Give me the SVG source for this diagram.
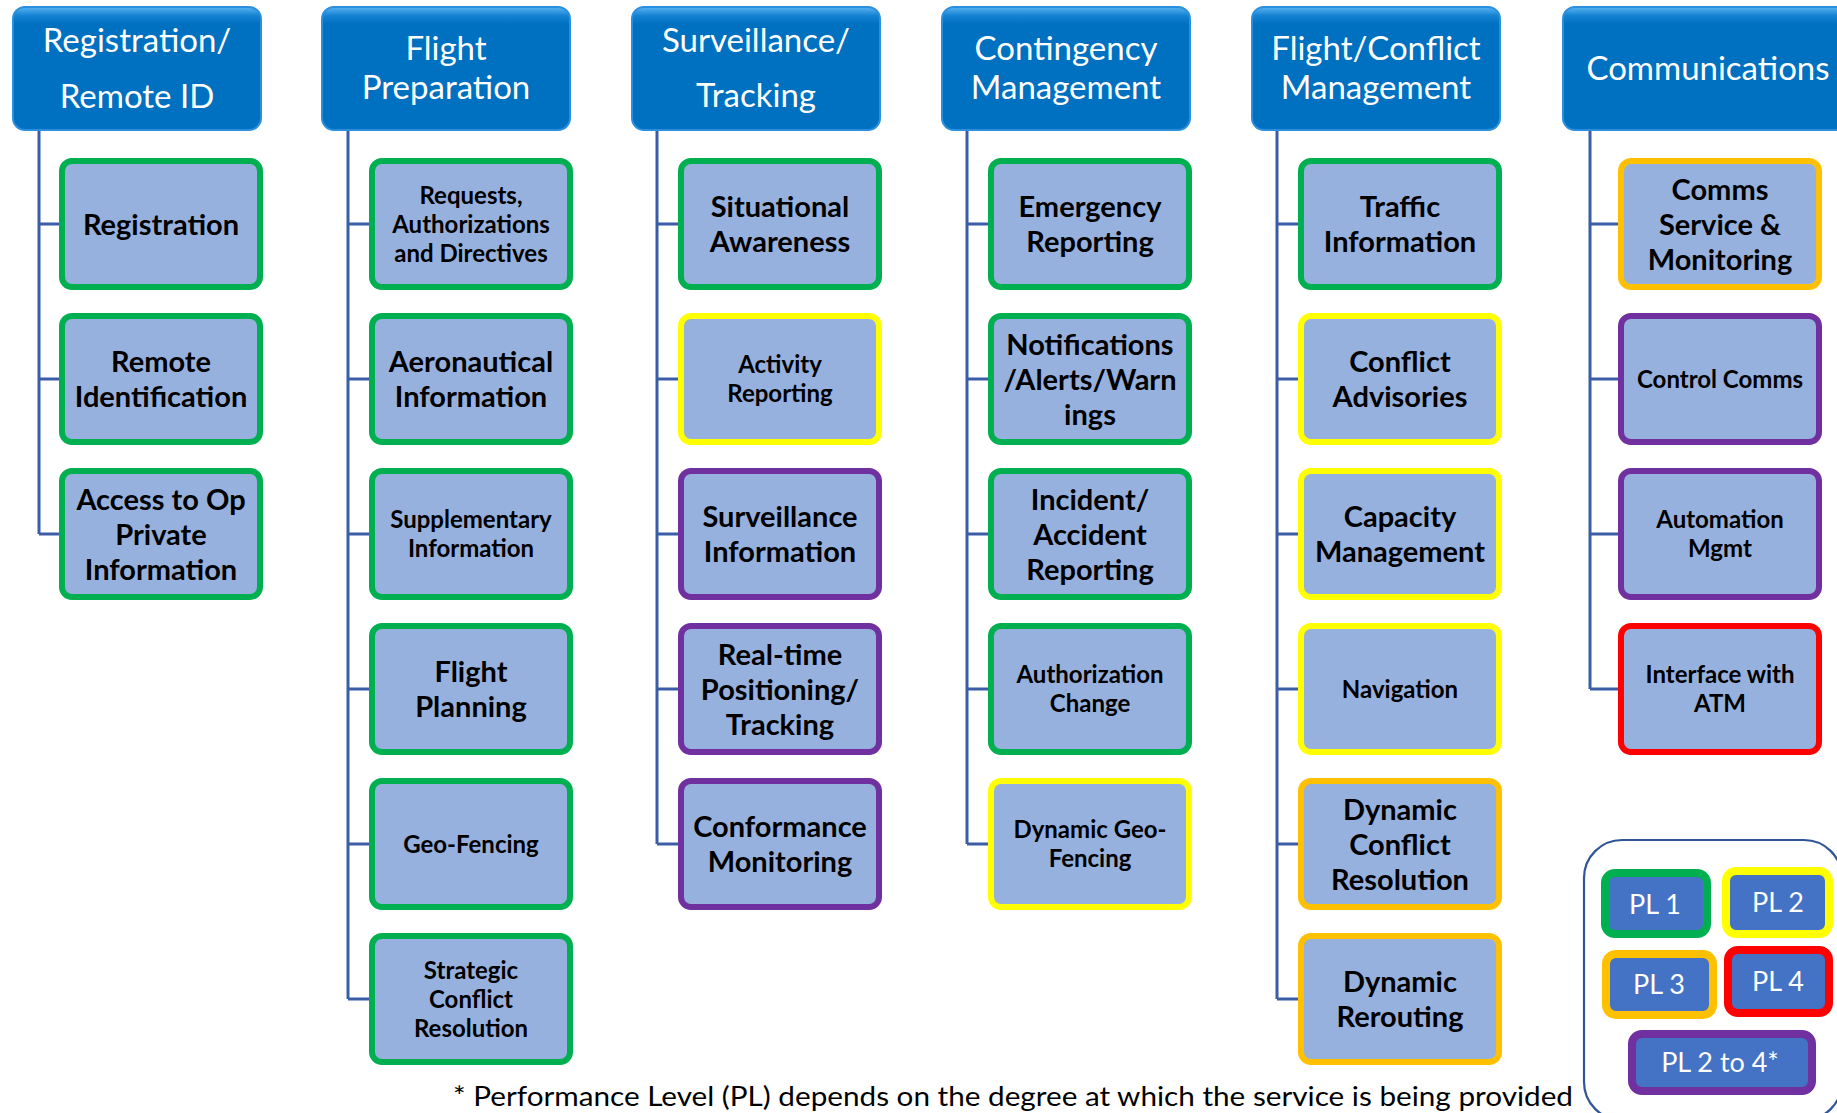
<svg xmlns="http://www.w3.org/2000/svg" width="1837" height="1113" viewBox="0 0 1837 1113">
<defs>
<linearGradient id="hdrGrad" x1="0" y1="0" x2="0" y2="1">
<stop offset="0" stop-color="#5AB4F2"/>
<stop offset="0.07" stop-color="#1582D2"/>
<stop offset="0.14" stop-color="#0070C0"/>
<stop offset="1" stop-color="#0070C0"/>
</linearGradient>
<style>
.hdr{fill:url(#hdrGrad);stroke:#2A8FDE;stroke-width:2}
.ht{font-family:Lato,"Open Sans",sans-serif;font-size:33px;fill:#FFFFFF;text-anchor:middle}
.box{fill:#97B1DE;stroke-width:6}
.g{stroke:#00B050}
.y{stroke:#FFFF00}
.o{stroke:#FFC000}
.p{stroke:#7030A0}
.r{stroke:#FF0000}
.lg{font-family:Lato,"Open Sans",sans-serif;font-weight:700;font-size:29px;fill:#000;text-anchor:middle}
.sm{font-family:Lato,"Open Sans",sans-serif;font-weight:700;font-size:24px;fill:#000;text-anchor:middle}
.conn{stroke:#3B5CA6;stroke-width:3;fill:none}
.pl{fill:#4472C4;stroke-width:8}
.plt{font-family:Lato,"Open Sans",sans-serif;font-size:27px;fill:#FFFFFF;text-anchor:middle}
.foot{font-family:Lato,"Open Sans",sans-serif;font-size:27px;fill:#000}
</style>
</defs>
<rect x="0" y="0" width="1837" height="1113" fill="#FFFFFF"/>

<g id="connectors">
<path class="conn" d="M39,130V534M39,224H59M39,379H59M39,534H59"/>
<path class="conn" d="M348,130V999M348,224H369M348,379H369M348,534H369M348,689H369M348,844H369M348,999H369"/>
<path class="conn" d="M657,130V844M657,224H678M657,379H678M657,534H678M657,689H678M657,844H678"/>
<path class="conn" d="M967,130V844M967,224H988M967,379H988M967,534H988M967,689H988M967,844H988"/>
<path class="conn" d="M1277,130V999M1277,224H1298M1277,379H1298M1277,534H1298M1277,689H1298M1277,844H1298M1277,999H1298"/>
<path class="conn" d="M1590,130V689M1590,224H1618M1590,379H1618M1590,534H1618M1590,689H1618"/>
</g>

<!-- Headers -->
<g id="h-registration"><rect class="hdr" x="13" y="7" width="248" height="123" rx="12"/><text class="ht"><tspan x="137" y="52">Registration/</tspan><tspan x="137" y="108">Remote ID</tspan></text></g>
<g id="h-flightprep"><rect class="hdr" x="322" y="7" width="248" height="123" rx="12"/><text class="ht"><tspan x="446" y="60">Flight</tspan><tspan x="446" y="99">Preparation</tspan></text></g>
<g id="h-surveillance"><rect class="hdr" x="632" y="7" width="248" height="123" rx="12"/><text class="ht"><tspan x="756" y="52">Surveillance/</tspan><tspan x="756" y="107">Tracking</tspan></text></g>
<g id="h-contingency"><rect class="hdr" x="942" y="7" width="248" height="123" rx="12"/><text class="ht"><tspan x="1066" y="60">Contingency</tspan><tspan x="1066" y="99">Management</tspan></text></g>
<g id="h-flightconflict"><rect class="hdr" x="1252" y="7" width="248" height="123" rx="12"/><text class="ht"><tspan x="1376" y="60">Flight/Conflict</tspan><tspan x="1376" y="99">Management</tspan></text></g>
<g id="h-communications"><rect class="hdr" x="1563" y="7" width="300" height="123" rx="12"/><text class="ht"><tspan x="1708" y="80">Communications</tspan></text></g>

<!-- Column 1 -->
<g id="n-registration"><rect class="box g" x="62" y="161" width="198" height="126" rx="10"/><text class="lg"><tspan x="161" y="234.5">Registration</tspan></text></g>
<g id="n-remote-id"><rect class="box g" x="62" y="316" width="198" height="126" rx="10"/><text class="lg"><tspan x="161" y="372">Remote</tspan><tspan x="161" y="407">Identification</tspan></text></g>
<g id="n-access-op"><rect class="box g" x="62" y="471" width="198" height="126" rx="10"/><text class="lg"><tspan x="161" y="509.5">Access to Op</tspan><tspan x="161" y="544.5">Private</tspan><tspan x="161" y="579.5">Information</tspan></text></g>

<!-- Column 2 -->
<g id="n-requests"><rect class="box g" x="372" y="161" width="198" height="126" rx="10"/><text class="sm"><tspan x="471" y="203.6">Requests,</tspan><tspan x="471" y="232.6">Authorizations</tspan><tspan x="471" y="261.6">and Directives</tspan></text></g>
<g id="n-aeronautical"><rect class="box g" x="372" y="316" width="198" height="126" rx="10"/><text class="lg"><tspan x="471" y="372">Aeronautical</tspan><tspan x="471" y="407">Information</tspan></text></g>
<g id="n-supplementary"><rect class="box g" x="372" y="471" width="198" height="126" rx="10"/><text class="sm"><tspan x="471" y="528.1">Supplementary</tspan><tspan x="471" y="557.1">Information</tspan></text></g>
<g id="n-flight-planning"><rect class="box g" x="372" y="626" width="198" height="126" rx="10"/><text class="lg"><tspan x="471" y="682">Flight</tspan><tspan x="471" y="717">Planning</tspan></text></g>
<g id="n-geofencing"><rect class="box g" x="372" y="781" width="198" height="126" rx="10"/><text class="sm"><tspan x="471" y="852.6">Geo-Fencing</tspan></text></g>
<g id="n-strategic"><rect class="box g" x="372" y="936" width="198" height="126" rx="10"/><text class="sm"><tspan x="471" y="978.6">Strategic</tspan><tspan x="471" y="1007.6">Conflict</tspan><tspan x="471" y="1036.6">Resolution</tspan></text></g>

<!-- Column 3 -->
<g id="n-situational"><rect class="box g" x="681" y="161" width="198" height="126" rx="10"/><text class="lg"><tspan x="780" y="217">Situational</tspan><tspan x="780" y="252">Awareness</tspan></text></g>
<g id="n-activity"><rect class="box y" x="681" y="316" width="198" height="126" rx="10"/><text class="sm"><tspan x="780" y="373.1">Activity</tspan><tspan x="780" y="402.1">Reporting</tspan></text></g>
<g id="n-surv-info"><rect class="box p" x="681" y="471" width="198" height="126" rx="10"/><text class="lg"><tspan x="780" y="527">Surveillance</tspan><tspan x="780" y="562">Information</tspan></text></g>
<g id="n-realtime"><rect class="box p" x="681" y="626" width="198" height="126" rx="10"/><text class="lg"><tspan x="780" y="664.5">Real-time</tspan><tspan x="780" y="699.5">Positioning/</tspan><tspan x="780" y="734.5">Tracking</tspan></text></g>
<g id="n-conformance"><rect class="box p" x="681" y="781" width="198" height="126" rx="10"/><text class="lg"><tspan x="780" y="837">Conformance</tspan><tspan x="780" y="872">Monitoring</tspan></text></g>

<!-- Column 4 -->
<g id="n-emergency"><rect class="box g" x="991" y="161" width="198" height="126" rx="10"/><text class="lg"><tspan x="1090" y="217">Emergency</tspan><tspan x="1090" y="252">Reporting</tspan></text></g>
<g id="n-notifications"><rect class="box g" x="991" y="316" width="198" height="126" rx="10"/><text class="lg"><tspan x="1090" y="354.5">Notifications</tspan><tspan x="1090" y="389.5">/Alerts/Warn</tspan><tspan x="1090" y="424.5">ings</tspan></text></g>
<g id="n-incident"><rect class="box g" x="991" y="471" width="198" height="126" rx="10"/><text class="lg"><tspan x="1090" y="509.5">Incident/</tspan><tspan x="1090" y="544.5">Accident</tspan><tspan x="1090" y="579.5">Reporting</tspan></text></g>
<g id="n-auth-change"><rect class="box g" x="991" y="626" width="198" height="126" rx="10"/><text class="sm"><tspan x="1090" y="683.1">Authorization</tspan><tspan x="1090" y="712.1">Change</tspan></text></g>
<g id="n-dyn-geofencing"><rect class="box y" x="991" y="781" width="198" height="126" rx="10"/><text class="sm"><tspan x="1090" y="838.1">Dynamic Geo-</tspan><tspan x="1090" y="867.1">Fencing</tspan></text></g>

<!-- Column 5 -->
<g id="n-traffic"><rect class="box g" x="1301" y="161" width="198" height="126" rx="10"/><text class="lg"><tspan x="1400" y="217">Traffic</tspan><tspan x="1400" y="252">Information</tspan></text></g>
<g id="n-conflict-adv"><rect class="box y" x="1301" y="316" width="198" height="126" rx="10"/><text class="lg"><tspan x="1400" y="372">Conflict</tspan><tspan x="1400" y="407">Advisories</tspan></text></g>
<g id="n-capacity"><rect class="box y" x="1301" y="471" width="198" height="126" rx="10"/><text class="lg"><tspan x="1400" y="527">Capacity</tspan><tspan x="1400" y="562">Management</tspan></text></g>
<g id="n-navigation"><rect class="box y" x="1301" y="626" width="198" height="126" rx="10"/><text class="sm"><tspan x="1400" y="697.6">Navigation</tspan></text></g>
<g id="n-dyn-conflict"><rect class="box o" x="1301" y="781" width="198" height="126" rx="10"/><text class="lg"><tspan x="1400" y="819.5">Dynamic</tspan><tspan x="1400" y="854.5">Conflict</tspan><tspan x="1400" y="889.5">Resolution</tspan></text></g>
<g id="n-dyn-rerouting"><rect class="box o" x="1301" y="936" width="198" height="126" rx="10"/><text class="lg"><tspan x="1400" y="992">Dynamic</tspan><tspan x="1400" y="1027">Rerouting</tspan></text></g>

<!-- Column 6 -->
<g id="n-comms-service"><rect class="box o" x="1621" y="161" width="198" height="126" rx="10"/><text class="lg"><tspan x="1720" y="199.5">Comms</tspan><tspan x="1720" y="234.5">Service &amp;</tspan><tspan x="1720" y="269.5">Monitoring</tspan></text></g>
<g id="n-control-comms"><rect class="box p" x="1621" y="316" width="198" height="126" rx="10"/><text class="sm"><tspan x="1720" y="387.6">Control Comms</tspan></text></g>
<g id="n-automation"><rect class="box p" x="1621" y="471" width="198" height="126" rx="10"/><text class="sm"><tspan x="1720" y="528.1">Automation</tspan><tspan x="1720" y="557.1">Mgmt</tspan></text></g>
<g id="n-interface-atm"><rect class="box r" x="1621" y="626" width="198" height="126" rx="10"/><text class="sm"><tspan x="1720" y="683.1">Interface with</tspan><tspan x="1720" y="712.1">ATM</tspan></text></g>

<!-- Legend -->
<g id="legend">
<rect x="1584" y="840" width="258" height="280" rx="38" fill="none" stroke="#2F5597" stroke-width="2.2"/>
<g id="pl1"><rect class="pl" x="1605" y="873" width="102" height="61" rx="10" stroke="#00B050"/><text class="plt" x="1655" y="914">PL 1</text></g>
<g id="pl2"><rect class="pl" x="1726" y="871" width="103" height="63" rx="10" stroke="#FFFF00"/><text class="plt" x="1778" y="912">PL 2</text></g>
<g id="pl3"><rect class="pl" x="1606" y="954" width="107" height="61" rx="10" stroke="#FFC000"/><text class="plt" x="1659" y="994">PL 3</text></g>
<g id="pl4"><rect class="pl" x="1728" y="950" width="101" height="63" rx="10" stroke="#FF0000"/><text class="plt" x="1778" y="991">PL 4</text></g>
<g id="pl2to4"><rect class="pl" x="1632" y="1034" width="180" height="57" rx="10" stroke="#7030A0"/><text class="plt" x="1720" y="1072">PL 2 to 4*</text></g>
</g>

<text id="footnote" class="foot" x="453" y="1106" textLength="1120" lengthAdjust="spacingAndGlyphs">* Performance Level (PL) depends on the degree at which the service is being provided</text>
</svg>
